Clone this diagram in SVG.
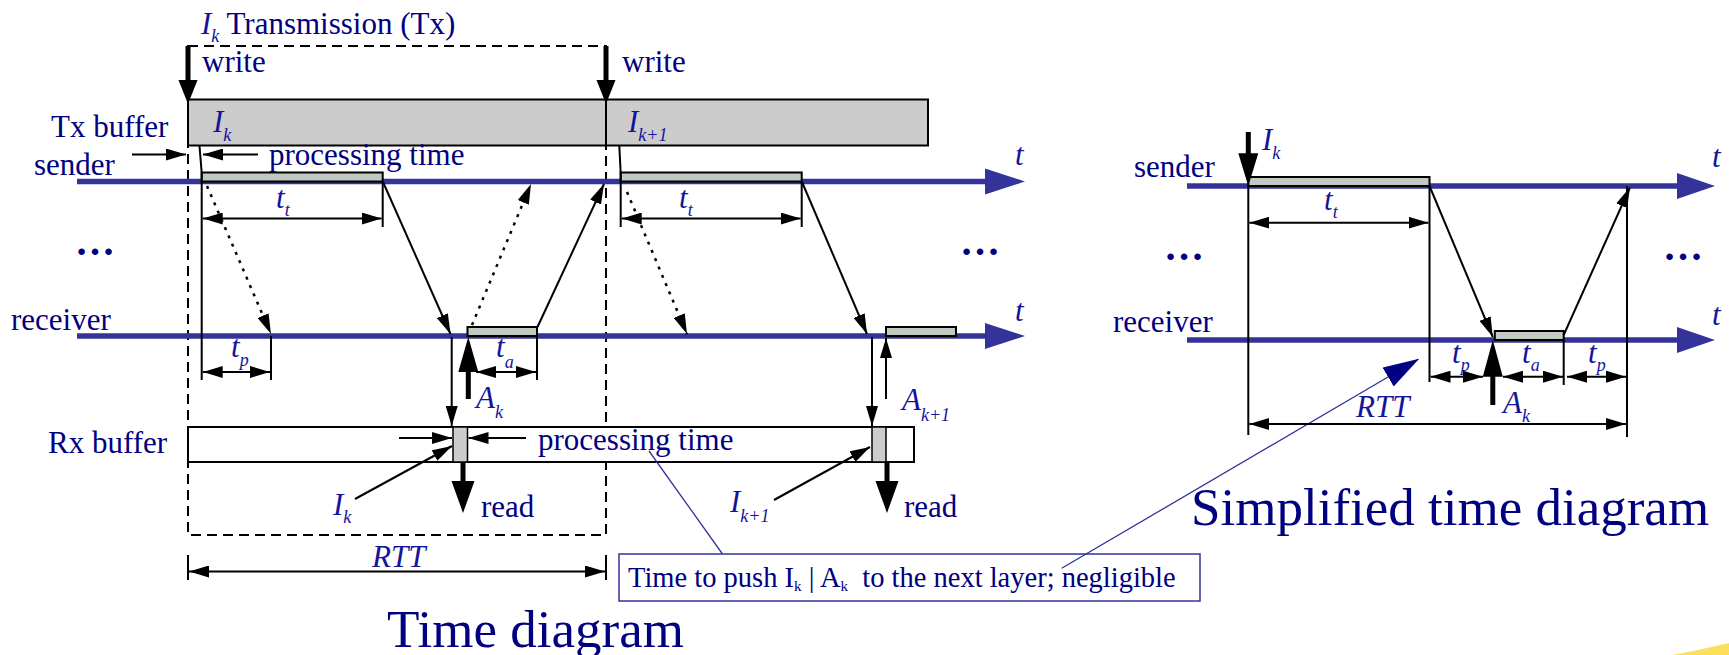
<svg xmlns="http://www.w3.org/2000/svg" width="1729" height="655" viewBox="0 0 1729 655">
<style>
  text { font-family: "Liberation Serif", "Times New Roman", serif; fill: #000080; }
  .l { font-size: 31px; }
  .it { font-style: italic; fill: #14149a; }
  .sub { font-size: 18px; }
  .big { font-size: 53px; }
  .dots { font-size: 40px; font-weight: bold; }
  .note { font-size: 28.5px; }
  .ln { stroke: #000; stroke-width: 2; fill: none; }
  .arr { stroke: #000; stroke-width: 2; fill: none; marker-end: url(#ah); }
  .dbl { stroke: #000; stroke-width: 2; fill: none; marker-start: url(#ah); marker-end: url(#ah); }
  .dot { stroke: #000; stroke-width: 2.5; fill: none; stroke-dasharray: 3 6; marker-end: url(#ah); }
  .axis { stroke: #333399; stroke-width: 5.5; fill: none; }
  .axhead { fill: #333399; }
  .bar { fill: #c2c9c2; stroke: #000; stroke-width: 2; }
  .thick { stroke: #000; stroke-width: 5; fill: none; }
  .head { fill: #000; }
  .call { stroke: #333399; stroke-width: 1.3; fill: none; }
</style>
<defs>
  <marker id="ah" markerUnits="userSpaceOnUse" markerWidth="20" markerHeight="12" refX="20" refY="6" orient="auto-start-reverse">
    <path d="M0,0 L20,6 L0,12 Z" fill="#000"/>
  </marker>
  <marker id="nh" markerUnits="userSpaceOnUse" markerWidth="36" markerHeight="22" refX="35" refY="11" orient="auto">
    <path d="M0,0 L36,11 L0,22 Z" fill="#000080"/>
  </marker>
</defs>

<!-- background accent -->
<path d="M1672,655 Q1700,650 1729,643 L1729,655 Z" fill="#fce05a"/>

<!-- ===== Time diagram ===== -->
<g id="tx-window">
  <rect x="188" y="46" width="418" height="489" fill="none" stroke="#000" stroke-width="2" stroke-dasharray="10 6"/>
  <text x="201" y="34" class="l"><tspan class="it">I</tspan><tspan class="it sub" dy="8">k</tspan><tspan dy="-8"> Transmission (Tx)</tspan></text>
</g>

<g id="tx-buffer">
  <rect x="188" y="99.5" width="740" height="46" fill="#cccccc" stroke="#000" stroke-width="2"/>
  <line x1="606" y1="99.5" x2="606" y2="145.5" stroke="#000" stroke-width="2"/>
  <text x="51" y="137" class="l">Tx buffer</text>
  <text x="213" y="132" class="l it">I<tspan class="sub" dy="9">k</tspan></text>
  <text x="628" y="132" class="l it">I<tspan class="sub" dy="9">k+1</tspan></text>
</g>

<g id="write-labels">
  <text x="202" y="72" class="l">write</text>
  <text x="622" y="72" class="l">write</text>
</g>

<g id="sender-axis">
  <line x1="77" y1="181.5" x2="990" y2="181.5" class="axis"/>
  <path d="M985,168.5 L1025,181.5 L985,194.5 Z" class="axhead"/>
  <text x="34" y="175" class="l">sender</text>
  <text x="1015" y="165" class="l it">t</text>
  <rect x="201.7" y="172.5" width="181" height="9" class="bar"/>
  <rect x="620.7" y="172.5" width="181" height="9" class="bar"/>
</g>

<g id="receiver-axis">
  <line x1="77" y1="336" x2="990" y2="336" class="axis"/>
  <path d="M985,323 L1025,336 L985,349 Z" class="axhead"/>
  <text x="11" y="330" class="l">receiver</text>
  <text x="1015" y="321" class="l it">t</text>
  <rect x="467.5" y="327" width="69.5" height="9" class="bar"/>
  <rect x="886" y="327" width="70" height="9" class="bar"/>
</g>

<g id="dots-left">
  <text x="75" y="255" class="dots">…</text>
  <text x="960" y="255" class="dots">…</text>
</g>

<g id="rx-buffer">
  <rect x="188" y="427" width="726" height="35" fill="#fff" stroke="#000" stroke-width="2"/>
  <rect x="453" y="427" width="14.5" height="35" fill="#cccccc" stroke="#000" stroke-width="1.5"/>
  <rect x="872" y="427" width="14" height="35" fill="#cccccc" stroke="#000" stroke-width="1.5"/>
  <text x="48" y="453" class="l">Rx buffer</text>
  <text x="538" y="450" class="l">processing time</text>
</g>

<g id="labels-left">
  <text x="269" y="165" class="l">processing time</text>
  <text x="276" y="208" class="l it">t<tspan class="sub" dy="8">t</tspan></text>
  <text x="679" y="208" class="l it">t<tspan class="sub" dy="8">t</tspan></text>
  <text x="231" y="357" class="l it">t<tspan class="sub" dy="9">p</tspan></text>
  <text x="496" y="357" class="l it">t<tspan class="sub" dy="11">a</tspan></text>
  <text x="476" y="408" class="l it">A<tspan class="sub" dy="10">k</tspan></text>
  <text x="902" y="410" class="l it">A<tspan class="sub" dy="11">k+1</tspan></text>
  <text x="333" y="515" class="l it">I<tspan class="sub" dy="8">k</tspan></text>
  <text x="730" y="512" class="l it">I<tspan class="sub" dy="10">k+1</tspan></text>
  <text x="481" y="517" class="l">read</text>
  <text x="904" y="517" class="l">read</text>
  <text x="372" y="567" class="l it">RTT</text>
  <text x="387" y="647" class="big">Time diagram</text>
</g>

<g id="note">
  <rect x="619" y="554" width="581" height="47" fill="#fff" stroke="#333399" stroke-width="1.5"/>
  <text x="628" y="587" class="note" xml:space="preserve">Time to push I<tspan font-size="15" dy="4">k</tspan><tspan dy="-4"> | A</tspan><tspan font-size="15" dy="4">k</tspan><tspan dy="-4">  to the next layer; negligible</tspan></text>
</g>

<!-- ===== Simplified time diagram ===== -->
<g id="simple-sender">
  <line x1="1187" y1="186" x2="1680" y2="186" class="axis"/>
  <path d="M1677,173 L1715,186 L1677,199 Z" class="axhead"/>
  <text x="1134" y="177" class="l">sender</text>
  <text x="1712" y="167" class="l it">t</text>
  <rect x="1248.3" y="177" width="181.2" height="9" class="bar"/>
  <text x="1262" y="150" class="l it">I<tspan class="sub" dy="9">k</tspan></text>
</g>

<g id="simple-receiver">
  <line x1="1187" y1="340" x2="1680" y2="340" class="axis"/>
  <path d="M1677,327 L1715,340 L1677,353 Z" class="axhead"/>
  <text x="1113" y="331.5" class="l">receiver</text>
  <text x="1712" y="325" class="l it">t</text>
  <rect x="1494.8" y="331" width="68.9" height="9" class="bar"/>
</g>

<g id="simple-labels">
  <text x="1164" y="260" class="dots">…</text>
  <text x="1663" y="260" class="dots">…</text>
  <text x="1324" y="210" class="l it">t<tspan class="sub" dy="8">t</tspan></text>
  <text x="1452" y="363" class="l it">t<tspan class="sub" dy="8">p</tspan></text>
  <text x="1522" y="363" class="l it">t<tspan class="sub" dy="8">a</tspan></text>
  <text x="1588" y="363" class="l it">t<tspan class="sub" dy="8">p</tspan></text>
  <text x="1503" y="413" class="l it">A<tspan class="sub" dy="9">k</tspan></text>
  <text x="1356" y="417" class="l it">RTT</text>
  <text x="1191" y="525" class="big">Simplified time diagram</text>
</g>

<g id="connectors">
  <!-- left: write arrows -->
  <line x1="188" y1="46" x2="188" y2="82" class="thick"/>
  <path d="M178.5,80 L197.5,80 L188,104 Z" class="head"/>
  <line x1="606" y1="46" x2="606" y2="82" class="thick"/>
  <path d="M596.5,80 L615.5,80 L606,104 Z" class="head"/>
  <!-- processing time (Tx) -->
  <line x1="132" y1="154.5" x2="186" y2="154.5" class="arr"/>
  <line x1="258" y1="154.5" x2="203" y2="154.5" class="arr"/>
  <!-- extension lines -->
  <polyline points="199.5,146 201.7,173 201.7,380" class="ln"/>
  <line x1="382.7" y1="182" x2="382.7" y2="227" class="ln"/>
  <polyline points="619.3,146 620.7,173 620.7,227" class="ln"/>
  <line x1="801.7" y1="182" x2="801.7" y2="227" class="ln"/>
  <line x1="271" y1="336" x2="271" y2="380" class="ln"/>
  <line x1="537" y1="336" x2="537" y2="380" class="ln"/>
  <!-- measurements -->
  <line x1="202.7" y1="218.5" x2="381.7" y2="218.5" class="dbl"/>
  <line x1="621.7" y1="218.5" x2="800.7" y2="218.5" class="dbl"/>
  <line x1="202.7" y1="372" x2="270" y2="372" class="dbl"/>
  <line x1="476" y1="372" x2="536" y2="372" class="dbl"/>
  <!-- message arrows -->
  <line x1="207" y1="186" x2="271" y2="334" class="dot"/>
  <line x1="383" y1="182" x2="450.5" y2="334" class="arr"/>
  <line x1="472" y1="325" x2="531" y2="184" class="dot"/>
  <line x1="537.5" y1="327" x2="604" y2="184" class="arr"/>
  <line x1="627" y1="192" x2="687" y2="334" class="dot"/>
  <line x1="802" y1="182" x2="867" y2="334" class="arr"/>
  <!-- to Rx buffer -->
  <line x1="451.7" y1="337" x2="451.7" y2="426" class="arr"/>
  <line x1="872" y1="337" x2="872" y2="426" class="arr"/>
  <!-- ack arrows -->
  <line x1="468.3" y1="399" x2="468.3" y2="368" class="thick"/>
  <path d="M458.3,372 L478.3,372 L468.3,337 Z" class="head"/>
  <line x1="886" y1="399" x2="886" y2="338" class="arr"/>
  <!-- processing time (Rx) -->
  <line x1="399" y1="438" x2="452" y2="438" class="arr"/>
  <line x1="526" y1="438" x2="468.5" y2="438" class="arr"/>
  <!-- I_k pointers -->
  <line x1="355" y1="499" x2="452" y2="446" class="arr"/>
  <line x1="774" y1="500" x2="870" y2="447" class="arr"/>
  <!-- read arrows -->
  <line x1="463" y1="462" x2="463" y2="484" class="thick"/>
  <path d="M451.5,481 L474.5,481 L463,513 Z" class="head"/>
  <line x1="887" y1="462" x2="887" y2="484" class="thick"/>
  <path d="M875.5,481 L898.5,481 L887,513 Z" class="head"/>
  <!-- RTT -->
  <line x1="188" y1="555" x2="188" y2="580" class="ln"/>
  <line x1="606" y1="555" x2="606" y2="580" class="ln"/>
  <line x1="189" y1="571.5" x2="605" y2="571.5" class="dbl"/>
  <!-- note callout lines -->
  <line x1="649" y1="451" x2="722.5" y2="554" class="call"/>
  <line x1="1061.7" y1="568.3" x2="1418.3" y2="359.3" class="call" marker-end="url(#nh)"/>

  <!-- simplified -->
  <line x1="1248.3" y1="132" x2="1248.3" y2="156" class="thick"/>
  <path d="M1238.3,153.3 L1258.3,153.3 L1248.3,186 Z" class="head"/>
  <line x1="1248.3" y1="186" x2="1248.3" y2="435" class="ln"/>
  <line x1="1429.5" y1="186" x2="1429.5" y2="382" class="ln"/>
  <line x1="1563.7" y1="340" x2="1563.7" y2="385" class="ln"/>
  <line x1="1627" y1="186" x2="1627" y2="437" class="ln"/>
  <line x1="1429.5" y1="186" x2="1492.8" y2="337" class="arr"/>
  <line x1="1563.7" y1="335" x2="1629.9" y2="187.5" class="arr"/>
  <line x1="1249.3" y1="222.7" x2="1428.5" y2="222.7" class="dbl"/>
  <line x1="1430.5" y1="376.7" x2="1483" y2="376.7" class="dbl"/>
  <line x1="1503" y1="376.7" x2="1563" y2="376.7" class="dbl"/>
  <line x1="1567" y1="376.7" x2="1626" y2="376.7" class="dbl"/>
  <line x1="1492.8" y1="405" x2="1492.8" y2="373" class="thick"/>
  <path d="M1482.8,376.7 L1502.8,376.7 L1492.8,340 Z" class="head"/>
  <line x1="1249.3" y1="424" x2="1626" y2="424" class="dbl"/>
</g>
</svg>
